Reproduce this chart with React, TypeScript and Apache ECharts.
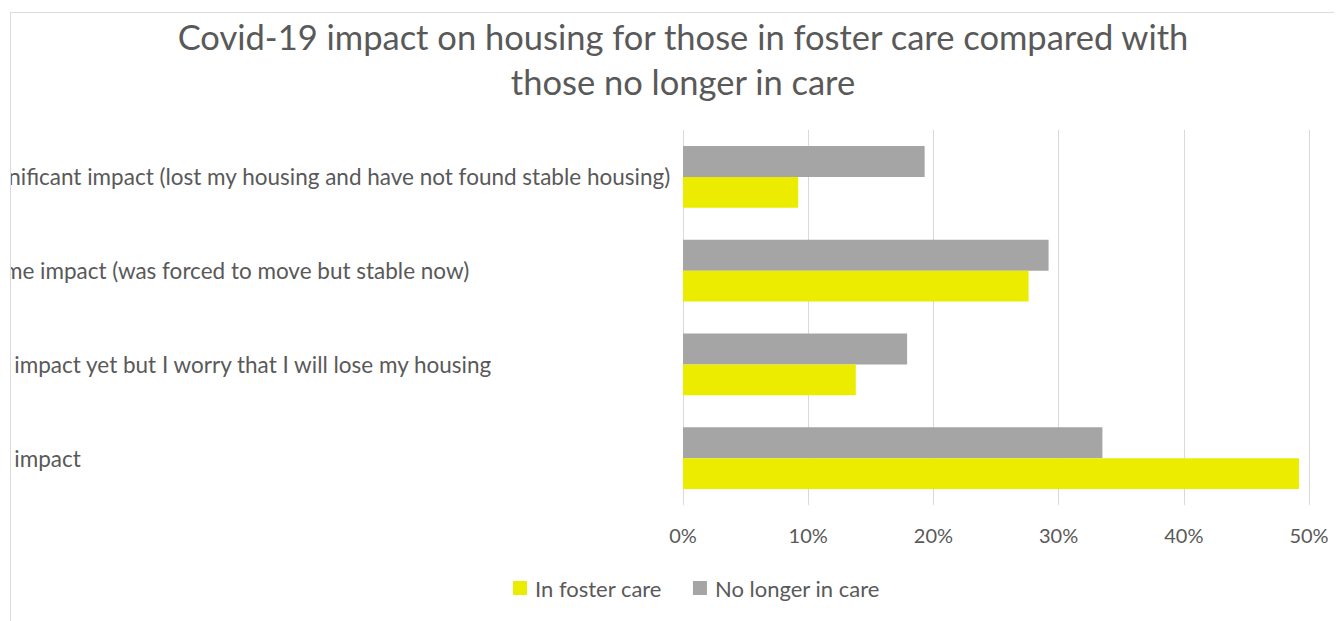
import React, { useEffect, useRef } from "react";
import * as echarts from "echarts";

const titleText = "Covid-19 impact on housing for those in foster care compared with\nthose no longer in care";
const categories = [
  "Significant impact (lost my housing and have not found stable housing)",
  "Some impact (was forced to move but stable now)",
  "No impact yet but I worry that I will lose my housing",
  "No impact",
];
const seriesNames = ["In foster care", "No longer in care"];
const inFosterCare = [9.2, 27.6, 13.8, 49.2];
const noLongerInCare = [19.3, 29.2, 17.9, 33.5];
const xTicks = [0, 10, 20, 30, 40, 50];

const FONT = "Lato, 'Open Sans', sans-serif";
const TEXT = "#595959";

export default function App() {
  const ref = useRef<HTMLDivElement>(null);
  useEffect(() => {
    if (!ref.current) return;
    const chart = echarts.init(ref.current, undefined, { renderer: "svg" });
    chart.setOption({
      animation: false,
      backgroundColor: "#ffffff",
      textStyle: { fontFamily: FONT, color: TEXT },
      title: {
        text: titleText,
        left: 667,
        textAlign: "center",
        top: -4,
        textStyle: { fontFamily: FONT, fontSize: 34.5, fontWeight: "normal", color: TEXT, lineHeight: 45 },
      },
      legend: {
        data: seriesNames,
        left: 497,
        top: 559,
        itemWidth: 14,
        itemHeight: 14,
        itemGap: 31,
        icon: "rect",
        textStyle: { fontFamily: FONT, fontSize: 22, color: TEXT, padding: [0, 0, 0, 3] },
      },
      grid: { left: 672, top: 117, width: 626, height: 375, outerBoundsMode: "none", containLabel: false },
      xAxis: {
        type: "value",
        min: xTicks[0],
        max: xTicks[xTicks.length - 1],
        interval: 10,
        axisLine: { show: false },
        axisTick: { show: false },
        splitLine: { show: true, lineStyle: { color: "#d9d9d9", width: 1 } },
        axisLabel: { formatter: "{value}%", fontFamily: FONT, fontSize: 20, color: TEXT, margin: 20 },
      },
      yAxis: {
        type: "category",
        data: categories,
        inverse: true,
        axisLine: { show: false },
        axisTick: { show: false },
        axisLabel: { align: "left", margin: 704, fontFamily: FONT, fontSize: 22.5, color: TEXT, interval: 0 },
      },
      series: [
        {
          name: seriesNames[1],
          type: "bar",
          data: noLongerInCare,
          itemStyle: { color: "#a5a5a5" },
          barGap: "0%",
          barCategoryGap: "34%",
        },
        {
          name: seriesNames[0],
          type: "bar",
          data: inFosterCare,
          itemStyle: { color: "#ecec00" },
          barGap: "0%",
          barCategoryGap: "34%",
        },
      ],
    });
    return () => chart.dispose();
  }, []);
  return (
    <div style={{ marginLeft: 2, marginTop: 4, width: 1331, height: 608, borderLeft: "1px solid #dcdcdc", borderTop: "1px solid #dcdcdc", overflow: "hidden" }}>
      <div ref={ref} style={{ width: 1331, height: 608 }} />
    </div>
  );
}
